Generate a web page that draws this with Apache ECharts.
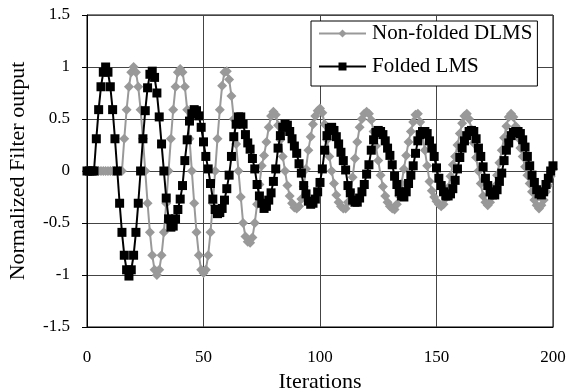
<!DOCTYPE html>
<html>
<head>
<meta charset="utf-8">
<script src="https://cdn.jsdelivr.net/npm/echarts@6/dist/echarts.min.js"></script>
<style>
html,body{margin:0;padding:0;background:#fff;}
#chart{width:568px;height:392px;}
</style>
</head>
<body>
<div id="chart"></div>
<script>
// Series names
const seriesNames = ['Non-folded DLMS', 'Folded LMS'];
// x tick labels
const xTicks = [0, 50, 100, 150, 200];
const yTicks = [-1.5, -1, -0.5, 0, 0.5, 1, 1.5];

// Non-folded DLMS output, iterations 0..200
const nonFolded = [
  0, 0, 0, 0, 0, 0, 0, 0, 0, 0,
  0, 0, 0, 0, 0, 0, 0.31, 0.59, 0.81, 0.95,
  1.0, 0.95, 0.81, 0.59, 0.31, 0, -0.31, -0.59, -0.81, -0.95,
  -1.0, -0.95, -0.81, -0.59, -0.31, 0, 0.31, 0.59, 0.81, 0.95,
  0.98, 0.95, 0.81, 0.59, 0.31, 0, -0.31, -0.59, -0.81, -0.95,
  -0.98, -0.95, -0.81, -0.59, -0.31, 0, 0.31, 0.59, 0.82, 0.95,
  0.96, 0.88, 0.72, 0.5, 0.26, 0, -0.25, -0.5, -0.63, -0.68,
  -0.69, -0.64, -0.5, -0.32, -0.13, 0.05, 0.15, 0.28, 0.42, 0.53,
  0.57, 0.54, 0.44, 0.3, 0.14, 0.0, -0.14, -0.24, -0.31, -0.35,
  -0.36, -0.34, -0.27, -0.15, 0.02, 0.2, 0.33, 0.45, 0.53, 0.58,
  0.6, 0.56, 0.45, 0.3, 0.14, 0.0, -0.12, -0.23, -0.3, -0.34,
  -0.36, -0.36, -0.3, -0.2, -0.06, 0.12, 0.28, 0.42, 0.5, 0.55,
  0.57, 0.55, 0.49, 0.38, 0.24, 0.1, -0.04, -0.15, -0.24, -0.3,
  -0.34, -0.36, -0.37, -0.32, -0.24, -0.12, 0.02, 0.15, 0.28, 0.38,
  0.47, 0.54, 0.55, 0.47, 0.35, 0.2, 0.05, -0.1, -0.19, -0.25,
  -0.29, -0.32, -0.34, -0.32, -0.26, -0.16, -0.05, 0.06, 0.14, 0.25,
  0.36, 0.46, 0.53, 0.55, 0.5, 0.4, 0.27, 0.13, 0.0, -0.12,
  -0.24, -0.3, -0.33, -0.3, -0.24, -0.15, -0.04, 0.08, 0.2, 0.32,
  0.43, 0.52, 0.55, 0.52, 0.43, 0.32, 0.22, 0.14, 0.04, -0.04,
  -0.12, -0.2, -0.28, -0.33, -0.36, -0.33, -0.28, -0.2, -0.14, -0.05,
  0.02
];

// Folded LMS output, iterations 0..200
const folded = [
  0, 0, 0, 0, 0.31, 0.59, 0.81, 0.95, 1.0, 0.95,
  0.81, 0.59, 0.31, 0, -0.31, -0.59, -0.81, -0.95, -1.01, -0.95,
  -0.81, -0.59, -0.31, 0, 0.31, 0.58, 0.8, 0.93, 0.96, 0.9,
  0.75, 0.52, 0.26, 0, -0.26, -0.46, -0.54, -0.53, -0.46, -0.37,
  -0.27, -0.14, 0.1, 0.3, 0.48, 0.55, 0.59, 0.58, 0.53, 0.42,
  0.28, 0.14, 0.02, -0.12, -0.27, -0.37, -0.41, -0.4, -0.36, -0.28,
  -0.17, -0.04, 0.14, 0.33, 0.45, 0.52, 0.52, 0.45, 0.35, 0.27,
  0.21, 0.12, 0.02, -0.13, -0.24, -0.31, -0.36, -0.34, -0.28, -0.21,
  -0.1, 0.02, 0.22, 0.34, 0.42, 0.45, 0.44, 0.38, 0.31, 0.24,
  0.17, 0.07, -0.02, -0.14, -0.22, -0.29, -0.32, -0.31, -0.27, -0.2,
  -0.11, 0.02, 0.2, 0.34, 0.41, 0.42, 0.39, 0.33, 0.26, 0.18,
  0.1, 0.01, -0.14, -0.21, -0.28, -0.3, -0.3, -0.26, -0.2, -0.13,
  -0.03, 0.06, 0.2, 0.3, 0.37, 0.39, 0.38, 0.35, 0.29, 0.22,
  0.15, 0.06, -0.05, -0.13, -0.2, -0.24, -0.25, -0.2, -0.12, -0.04,
  0.05, 0.17, 0.29, 0.35, 0.38, 0.38, 0.36, 0.29, 0.22, 0.14,
  0.03, -0.07, -0.14, -0.2, -0.24, -0.24, -0.22, -0.17, -0.09, 0.02,
  0.13, 0.22, 0.29, 0.34, 0.38, 0.39, 0.38, 0.31, 0.22, 0.14,
  0.04, -0.07, -0.14, -0.2, -0.23, -0.23, -0.18, -0.1, -0.02, 0.1,
  0.2, 0.27, 0.34, 0.37, 0.38, 0.38, 0.36, 0.3, 0.23, 0.14,
  0.05, -0.04, -0.11, -0.18, -0.22, -0.23, -0.2, -0.13, -0.07, 0.0,
  0.05
];

const toPairs = arr => arr.map((v, i) => [i, v]);
const FONT = 'Liberation Serif';

const chart = echarts.init(document.getElementById('chart'), null, {renderer: 'canvas'});
chart.setOption({
  animation: false,
  backgroundColor: '#fff',
  grid: {
    left: 87, right: 15, top: 15, bottom: 65,
    outerBoundsMode: 'none', containLabel: false,
    show: true, borderColor: '#000', borderWidth: 1, backgroundColor: 'transparent'
  },
  legend: {
    data: seriesNames,
    orient: 'vertical',
    left: 311, top: 21,
    itemWidth: 47, itemHeight: 10, itemGap: 12,
    padding: [2, 5, 9, 7],
    backgroundColor: '#fff',
    borderColor: '#000', borderWidth: 1, borderRadius: 0,
    textStyle: {fontFamily: FONT, fontSize: 21, color: '#000', padding: [0, 0, 0, 1]}
  },
  xAxis: {
    type: 'value', min: xTicks[0], max: xTicks[xTicks.length - 1], interval: 50,
    name: 'Iterations', nameLocation: 'middle', nameGap: 43,
    nameTextStyle: {fontFamily: FONT, fontSize: 22, color: '#000'},
    axisLine: {show: true, onZero: false, lineStyle: {color: '#000', width: 1}},
    axisTick: {show: false},
    axisLabel: {fontFamily: FONT, fontSize: 17, color: '#000', margin: 22},
    splitLine: {show: true, lineStyle: {color: '#444', width: 1}}
  },
  yAxis: {
    type: 'value', min: yTicks[0], max: yTicks[yTicks.length - 1], interval: 0.5,
    name: 'Normalized Filter output', nameLocation: 'middle', nameGap: 58,
    nameTextStyle: {fontFamily: FONT, fontSize: 22, color: '#000'},
    axisLine: {show: true, lineStyle: {color: '#000', width: 1}},
    axisTick: {show: true, inside: false, length: 5, lineStyle: {color: '#000'}},
    axisLabel: {fontFamily: FONT, fontSize: 17, color: '#000', margin: 17},
    splitLine: {show: true, lineStyle: {color: '#444', width: 1}}
  },
  series: [
    {
      name: seriesNames[0], type: 'line', data: toPairs(nonFolded),
      symbol: 'diamond', symbolSize: 10, showAllSymbol: true,
      lineStyle: {color: '#999999', width: 2},
      itemStyle: {color: '#999999', borderWidth: 0},
      z: 2
    },
    {
      name: seriesNames[1], type: 'line', data: toPairs(folded),
      symbol: 'rect', symbolSize: 9, showAllSymbol: true,
      lineStyle: {color: '#000000', width: 2},
      itemStyle: {color: '#000000', borderWidth: 0},
      z: 3
    }
  ]
});
</script>
</body>
</html>
